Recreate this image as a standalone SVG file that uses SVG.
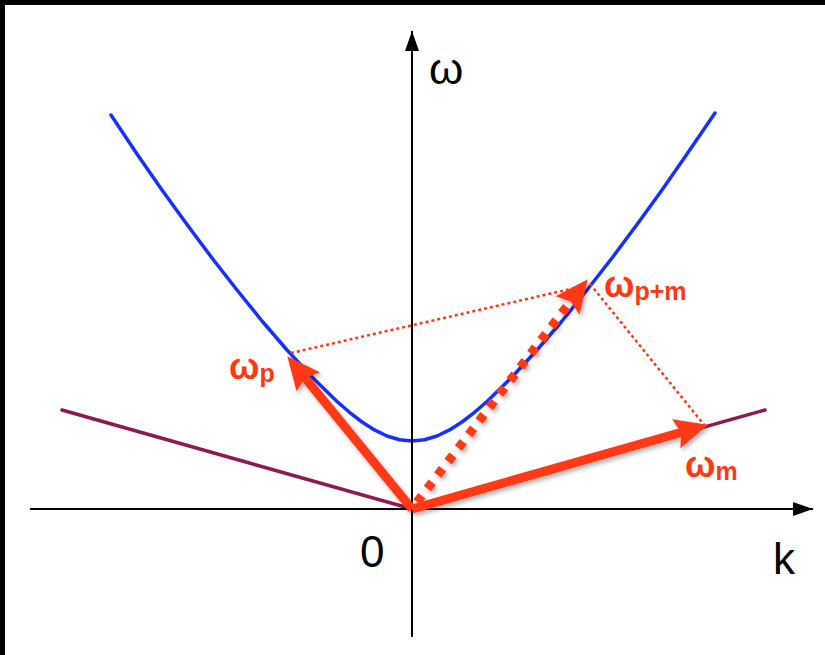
<svg xmlns="http://www.w3.org/2000/svg" width="825" height="655" viewBox="0 0 825 655">
  <style>
    .axis { stroke: #000; stroke-width: 2; fill: none; }
    .lbl { font-family: "Liberation Sans", Arial, sans-serif; font-size: 44px; fill: #000; }
    .rlbl { font-family: "Liberation Sans", Arial, sans-serif; font-weight: bold; fill: #FF3814; font-size: 36px; }
    .sub { font-size: 25px; }
    .vec { stroke: #FF3814; stroke-width: 9; fill: none; }
    .dots { stroke: #FF3814; stroke-width: 2.5; stroke-dasharray: 3 3; fill: none; }
  </style>
  <defs>
    <marker id="axhead" markerUnits="userSpaceOnUse" viewBox="-20 -8 22 16" markerWidth="22" markerHeight="16" refX="0" refY="0" orient="auto" overflow="visible">
      <path d="M0,0 L-20,-7 L-20,7 Z" fill="#000"/>
    </marker>
    <marker id="redhead" markerUnits="userSpaceOnUse" viewBox="-14 -16 36 32" markerWidth="36" markerHeight="32" refX="0" refY="0" orient="auto" overflow="visible">
      <path d="M21,0 L-12,-15 L-7,0 L-12,15 Z" fill="#FF3814"/>
    </marker>
    <filter id="shadow" x="-20%" y="-20%" width="140%" height="140%">
      <feDropShadow dx="2" dy="3" stdDeviation="2" flood-color="#000" flood-opacity="0.3"/>
    </filter>
  </defs>

  <rect x="0" y="0" width="825" height="655" fill="#fff"/>
  <rect x="0" y="0" width="825" height="5" fill="#000"/>
  <rect x="0" y="0" width="5" height="655" fill="#000"/>

  <g id="curves">
    <polyline id="phonon" points="62,410 412,509 765,410" fill="none" stroke="#8E1A52" stroke-width="3.5" stroke-linecap="round" stroke-linejoin="round"/>
    <polyline id="dispersion" points="111,115 137,154 162,190 187,224.5 212,258 237,290 262,321 287,350 312,377 337,401.5 349.5,412.3 362,422 374.5,429.9 387,436 399.5,439.7 412,441 424.5,439.7 437,436 449.5,429.9 462,422 474.5,412.3 487,401.5 512,377 537,350 562,321 587,290 612,258 637,224.5 662,190 687,154 715,113" fill="none" stroke="#1530FF" stroke-width="3.5" stroke-linecap="round" stroke-linejoin="round"/>
  </g>

  <g id="axes">
    <line class="axis" x1="412" y1="637" x2="412" y2="31" marker-end="url(#axhead)"/>
    <line class="axis" x1="30" y1="509" x2="813" y2="509" marker-end="url(#axhead)"/>
  </g>

  <g id="connectors">
    <line class="dots" x1="291" y1="353" x2="588" y2="285"/>
    <line class="dots" x1="590" y1="284" x2="705" y2="426"/>
    <g filter="url(#shadow)">
      <line class="vec" x1="412" y1="509" x2="300.6" y2="372.5" marker-end="url(#redhead)"/>
      <line class="vec" x1="412" y1="509" x2="687.8" y2="430.5" marker-end="url(#redhead)"/>
      <line class="vec" x1="417" y1="502" x2="574.9" y2="295.9" stroke-width="8" stroke-dasharray="8 9" marker-end="url(#redhead)"/>
    </g>
  </g>

  <g id="label-omega-axis"><text class="lbl" x="429" y="84">ω</text></g>
  <g id="label-k-axis"><text class="lbl" x="773" y="574">k</text></g>
  <g id="label-origin"><text class="lbl" x="360" y="567">0</text></g>

  <g id="label-wp"><text class="rlbl" x="229" y="379">ω<tspan class="sub" dy="3">p</tspan></text></g>
  <g id="label-wpm"><text class="rlbl" x="604" y="297">ω<tspan class="sub" dy="3">p+m</tspan></text></g>
  <g id="label-wm"><text class="rlbl" x="685" y="477">ω<tspan class="sub" dy="3">m</tspan></text></g>
</svg>
